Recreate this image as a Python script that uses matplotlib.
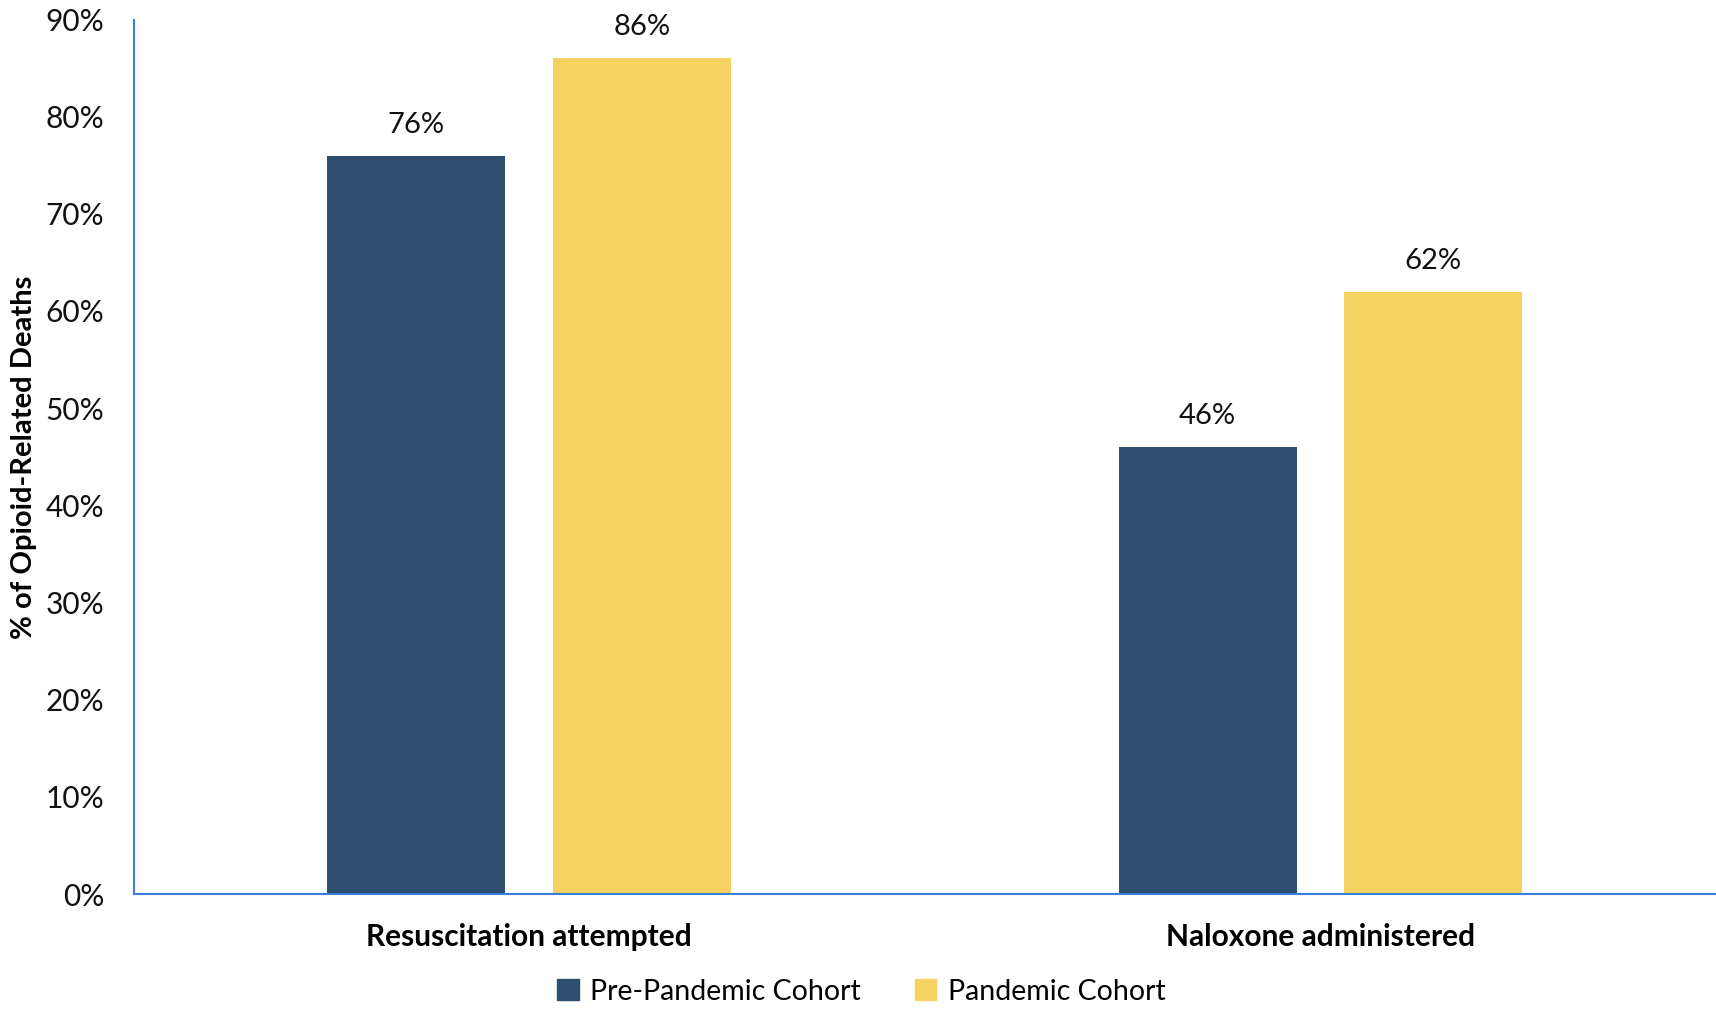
import matplotlib.pyplot as plt
import numpy as np
from matplotlib.patches import Patch
from matplotlib.ticker import MultipleLocator, PercentFormatter

plt.rcParams['font.family'] = ['Lato', 'DejaVu Sans']

categories = ["Resuscitation attempted", "Naloxone administered"]
series_names = ["Pre-Pandemic Cohort", "Pandemic Cohort"]
pre_pandemic = [76, 46]
pandemic = [86, 62]
colors = ["#2D4E6E", "#F5D262"]

fig = plt.figure(figsize=(17.16, 10.09), dpi=100)
ax = fig.add_axes([133.5 / 1716, 1 - 894 / 1009, 1 - 133.5 / 1716, (894 - 19.5) / 1009])

x = np.arange(len(categories))
width = 0.225
offset = 0.1425
for vals, dx, color in [(pre_pandemic, -offset, colors[0]), (pandemic, offset, colors[1])]:
    bars = ax.bar(x + dx, vals, width, color=color, zorder=2)
    for bar, v in zip(bars, vals):
        ax.annotate(f"{v}%", (bar.get_x() + bar.get_width() / 2, v),
                    xytext=(0, 31), textcoords="offset pixels",
                    ha="center", va="center", fontsize=21, color="#111111")

ax.set_xlim(-0.5, 1.5)
ax.set_ylim(0, 90)
ax.yaxis.set_major_locator(MultipleLocator(10))
ax.yaxis.set_major_formatter(PercentFormatter(decimals=0))
ax.tick_params(axis="y", length=0, pad=21, labelsize=21.5, labelcolor="#111111")
ax.tick_params(axis="x", length=0, pad=21)
ax.set_xticks(x)
ax.set_xticklabels(categories, fontsize=21.5, fontweight="bold")

for side in ["top", "right"]:
    ax.spines[side].set_visible(False)
for side in ["left", "bottom"]:
    ax.spines[side].set_color("#3A7FD5")
    ax.spines[side].set_linewidth(1.5)

fig.text(24 / 1716, 1 - 457 / 1009, "% of Opioid-Related Deaths", rotation=90,
         ha="center", va="center", fontsize=21, fontweight="bold")

handles = [Patch(color=c, label=n) for c, n in zip(colors, series_names)]
fig.legend(handles=handles, loc="center", bbox_to_anchor=(0.502, 0.017), ncol=2,
           frameon=False, fontsize=20.5, handlelength=0.75, handleheight=0.75,
           handletextpad=0.4, columnspacing=1.9, borderpad=0.2)

fig.savefig("out.png", dpi=100)
